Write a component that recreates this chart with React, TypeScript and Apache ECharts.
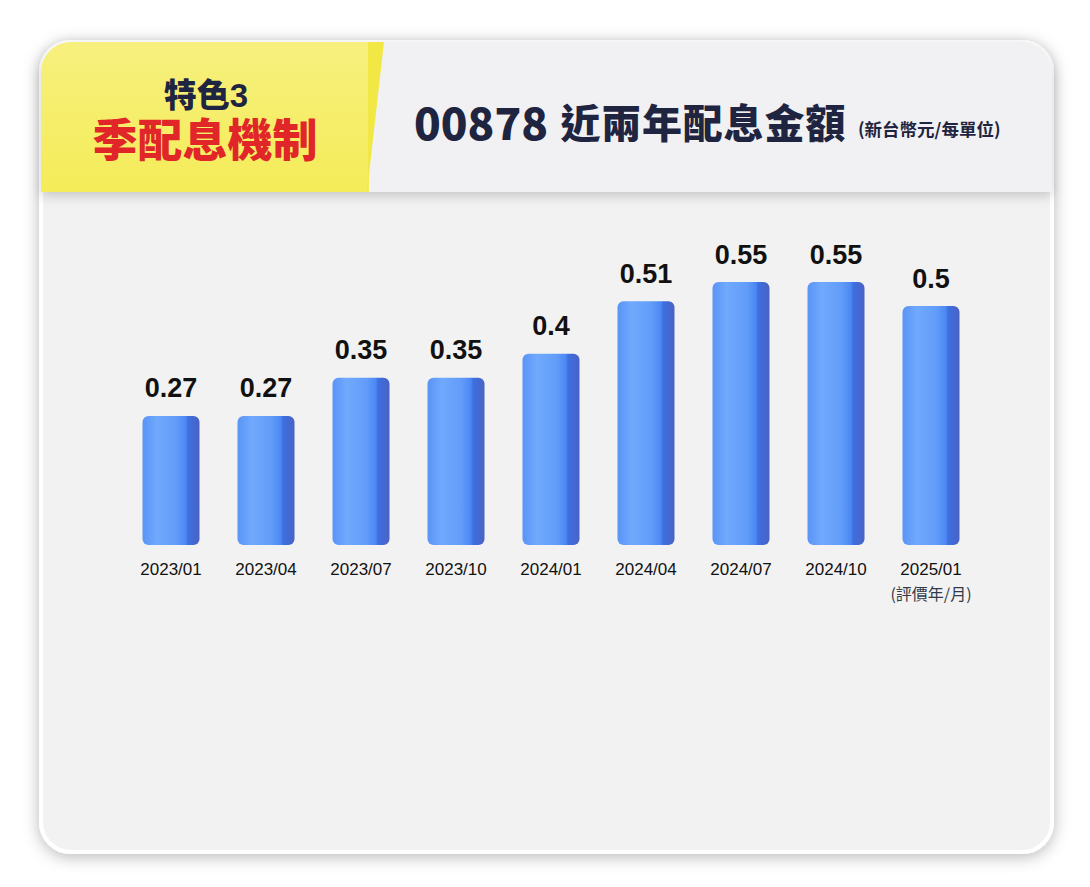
import { useEffect, useRef } from "react";
import * as echarts from "echarts";

const months = ["2023/01", "2023/04", "2023/07", "2023/10", "2024/01", "2024/04", "2024/07", "2024/10", "2025/01"];
const payouts = [0.27, 0.27, 0.35, 0.35, 0.4, 0.51, 0.55, 0.55, 0.5];
const lastNote = "(評價年/月)";
const titleCode = "00878";
const titleText = "近兩年配息金額";
const badgeTop = "特色3";
const badgeMain = "季配息機制";

const CJK = '"Noto Sans CJK TC", "Noto Sans", sans-serif';
const LATIN = '"Liberation Sans", Arial, sans-serif';
// Latin-first stack: CJK glyphs fall back, box uses tighter Latin metrics
const BADGE = '"Liberation Sans", "Noto Sans CJK TC", sans-serif';

export default function App() {
  const ref = useRef<HTMLDivElement>(null);
  useEffect(() => {
    if (!ref.current) return;
    document.body.style.margin = "0";
    const chart = echarts.init(ref.current, null, { renderer: "svg" });
    const barColor = new echarts.graphic.LinearGradient(0, 0, 1, 0, [
      { offset: 0, color: "#5a94f6" },
      { offset: 0.25, color: "#70a9fd" },
      { offset: 0.6, color: "#619cf9" },
      { offset: 0.76, color: "#4c88f3" },
      { offset: 0.8, color: "#3d6fe0" },
      { offset: 1, color: "#4a62c4" },
    ]);
    const titleRich = `{d|${titleCode}}` + titleText.split("").map((c) => `{c|${c}}`).join("");
    chart.setOption({
      animation: false,
      backgroundColor: "#ffffff",
      graphic: [
        // card
        {
          type: "rect", z: 0,
          shape: { x: 41, y: 42, width: 1011, height: 810, r: 30 },
          style: { fill: "#f2f2f2", stroke: "#ffffff", lineWidth: 4, shadowBlur: 16, shadowColor: "rgba(0,0,0,0.28)", shadowOffsetY: 3 },
        },
        // header band
        {
          type: "rect", z: 1,
          shape: { x: 41, y: 42, width: 1011, height: 150, r: [30, 30, 0, 0] },
          style: { fill: "#f1f1f3", shadowBlur: 12, shadowColor: "rgba(0,0,0,0.18)", shadowOffsetY: 4 },
        },
        {
          type: "rect", z: 2,
          shape: { x: 41, y: 42, width: 328, height: 150, r: [30, 0, 0, 0] },
          style: {
            fill: new echarts.graphic.LinearGradient(0, 0, 0, 1, [
              { offset: 0, color: "#f7f07e" },
              { offset: 1, color: "#f4ec58" },
            ]),
          },
        },
        {
          type: "polygon", z: 2,
          shape: { points: [[368, 42], [384, 42], [367, 192], [368, 192]] },
          style: { fill: "#f2e845" },
        },
        {
          type: "text", z: 3, x: 206, y: 95,
          style: { text: badgeTop, font: `900 33px ${BADGE}`, lineHeight: 30, fill: "#1f2540", align: "center", verticalAlign: "middle" },
        },
        {
          type: "text", z: 3, x: 205, y: 141,
          style: { text: badgeMain, font: `900 45px ${BADGE}`, lineHeight: 42, fill: "#e1262a", align: "center", verticalAlign: "middle" },
        },
        {
          type: "text", z: 3, x: 414, y: 121,
          style: {
            text: titleRich,
            fill: "#1f2540",
            align: "left",
            verticalAlign: "middle",
            rich: {
              d: { font: `900 44px ${CJK}`, fill: "#1f2540", width: 146, align: "left", lineHeight: 44 },
              c: { font: `900 40px ${CJK}`, fill: "#1f2540", width: 40.8, align: "center", lineHeight: 44 },
            },
          },
        },
        {
          type: "text", z: 3, x: 858, y: 128,
          style: { text: "(新台幣元/每單位)", font: `700 17.5px ${CJK}`, fill: "#1f2540", align: "left", verticalAlign: "middle" },
        },
      ],
      grid: { left: 123.5, width: 855, top: 67, height: 478 },
      xAxis: {
        type: "category",
        data: months,
        axisLine: { show: false },
        axisTick: { show: false },
        axisLabel: {
          interval: 0,
          margin: 14,
          color: "#111",
          fontFamily: LATIN,
          fontSize: 17,
          lineHeight: 20,
          formatter: (v: string, i: number) => (i === months.length - 1 ? `${v}\n{note|${lastNote}}` : v),
          rich: { note: { fontFamily: CJK, fontSize: 16, color: "#333a4a", lineHeight: 28 } },
        },
      },
      yAxis: { type: "value", min: 0, max: 1, show: false, splitLine: { show: false } },
      series: [
        {
          type: "bar",
          data: payouts,
          barWidth: 57,
          itemStyle: { color: barColor, borderRadius: 6 },
          label: {
            show: true,
            position: "top",
            distance: 14,
            color: "#111",
            fontFamily: LATIN,
            fontWeight: "bold",
            fontSize: 27,
          },
        },
      ],
    });
    return () => chart.dispose();
  }, []);
  return <div ref={ref} style={{ position: "absolute", left: 0, top: 0, width: 1090, height: 887 }} />;
}
